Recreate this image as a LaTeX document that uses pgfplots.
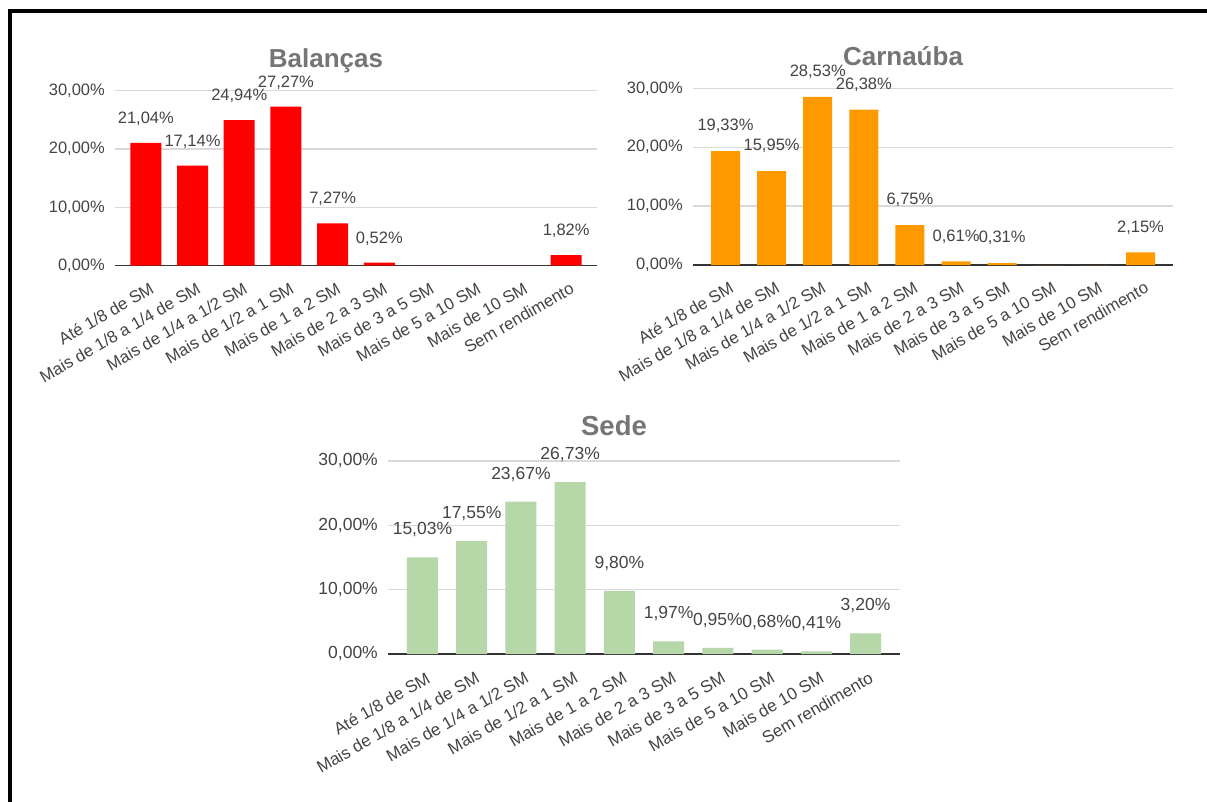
\documentclass[border=0pt]{standalone}
\usepackage{pgfplots}
\pgfplotsset{compat=1.18}
\usepackage{fontspec}
\setmainfont{Liberation Sans}

\definecolor{barred}{HTML}{FF0000}
\definecolor{barorange}{HTML}{FF9900}
\definecolor{bargreen}{HTML}{B6D7A8}
\definecolor{txt}{HTML}{444444}
\definecolor{ttl}{HTML}{757575}
\definecolor{gridc}{HTML}{D9D9D9}
\definecolor{axisc}{HTML}{333333}

% common look of the three Google-style bar charts
\pgfplotsset{
  faixa/.style={
    ybar, bar shift=0pt,
    scale only axis,
    anchor=south west,
    ymin=0, ymax=30,
    ytick={0,10,20,30},
    yticklabels={{0,00\%},{10,00\%},{20,00\%},{30,00\%}},
    xtick={0,...,9},
    xticklabels={Até 1/8 de SM, Mais de 1/8 a 1/4 de SM, Mais de 1/4 a 1/2 SM,
      Mais de 1/2 a 1 SM, Mais de 1 a 2 SM, Mais de 2 a 3 SM, Mais de 3 a 5 SM,
      Mais de 5 a 10 SM, Mais de 10 SM, Sem rendimento},
    separate axis lines,
    axis x line*=bottom,
    axis y line*=left,
    y axis line style={draw=none},
    x axis line style={draw=axisc, line width=1.5pt, -},
    major tick length=0pt,
    ymajorgrids,
    major grid style={draw=gridc, line width=1.4pt},
    clip=false,
    /pgf/number format/assume math mode=true,
    yticklabel style={text=txt, anchor=east, inner sep=0pt, xshift=-10pt},
    xticklabel style={text=txt, rotate=30, anchor=north east, inner sep=0pt, xshift=-5pt, yshift=-15pt},
    title style={text=ttl, at={(0.5,1)}, anchor=base, xshift=-30pt, yshift=17pt},
    nodes near coords={\pgfmathfloatifflags{\pgfplotspointmeta}{0}{}{\pgfmathprintnumber[fixed,fixed zerofill,precision=2,use comma,assume math mode=true]{\pgfplotspointmeta}\%}},
    every node near coord/.append style={text=txt, inner sep=0pt},
  },
  fontA/.style={
    tick label style={font=\fontsize{16.5}{18}\selectfont},
    xticklabel style={font=\fontsize{16.8}{18}\selectfont},
    title style={font=\bfseries\fontsize{26}{28}\selectfont},
    every node near coord/.append style={font=\fontsize{16.5}{18}\selectfont, yshift=17pt},
  },
}

\begin{document}
\begin{tikzpicture}[x=1pt,y=1pt]
\useasboundingbox (0,0) rectangle (1207,-802);
\fill[white] (0,0) rectangle (1207,-802);
\draw[black, line width=3.4pt] (10,-802) -- (10,-11) -- (1207,-11);

% Balanças
\begin{axis}[faixa, fontA,
  at={(115pt,-265.7pt)}, width=482pt, height=175pt,
  xmin=-0.66, xmax=9.66, bar width=31pt,
  title={Balanças}]
\addplot[fill=barred, draw=none] coordinates {
  (0,21.04) (1,17.14) (2,24.94) (3,27.27) (4,7.27)
  (5,0.52) (6,0) (7,0) (8,0) (9,1.82)};
\end{axis}

% Carnaúba
\begin{axis}[faixa, fontA,
  at={(693pt,-265pt)}, width=480pt, height=176.7pt,
  xmin=-0.705, xmax=9.705, bar width=29pt,
  every node near coord/.append style={yshift=1pt},
  title={Carnaúba}]
\addplot[fill=barorange, draw=none] coordinates {
  (0,19.33) (1,15.95) (2,28.53) (3,26.38) (4,6.75)
  (5,0.61) (6,0.31) (7,0) (8,0) (9,2.15)};
\end{axis}

% Sede
\begin{axis}[faixa,
  tick label style={font=\fontsize{17.5}{19}\selectfont},
  xticklabel style={font=\fontsize{17}{19}\selectfont, xshift=-1pt, yshift=-1pt},
  title style={font=\bfseries\fontsize{27.5}{30}\selectfont, yshift=3pt},
  every node near coord/.append style={font=\fontsize{17.5}{19}\selectfont, yshift=20pt},
  at={(388pt,-654pt)}, width=512pt, height=193pt,
  xmin=-0.7, xmax=9.7, bar width=31pt,
  title={Sede}]
\addplot[fill=bargreen, draw=none] coordinates {
  (0,15.03) (1,17.55) (2,23.67) (3,26.73) (4,9.80)
  (5,1.97) (6,0.95) (7,0.68) (8,0.41) (9,3.20)};
\end{axis}
\end{tikzpicture}
\end{document}
